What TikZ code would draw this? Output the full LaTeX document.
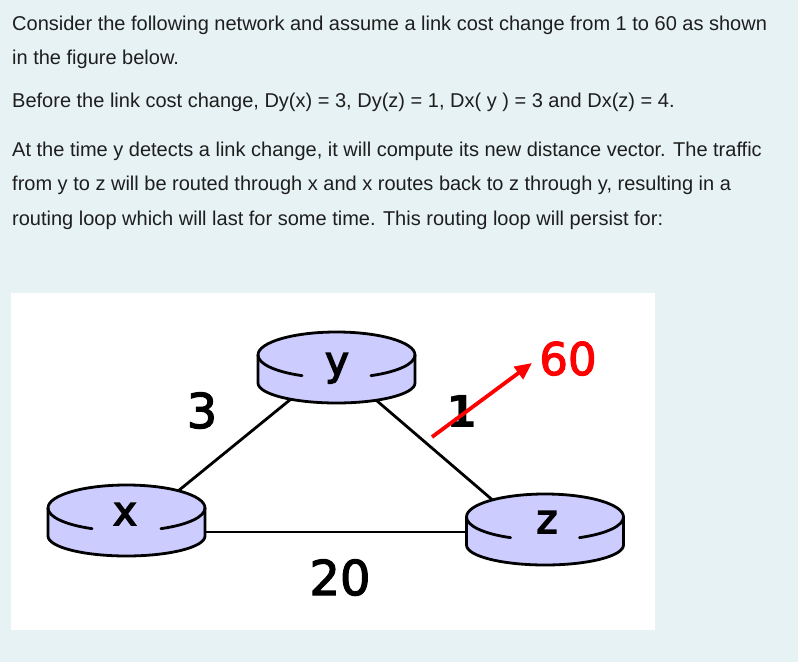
\documentclass[tikz,border=0pt]{standalone}
\usepackage{fontspec}
\setmainfont{Liberation Sans}
\newfontfamily\dvfont{DejaVu Sans}[BoldFont={DejaVu Sans}, BoldFeatures={FakeBold=2.5}]
\newfontfamily\dvletter{DejaVu Sans}[BoldFont={DejaVu Sans}, BoldFeatures={FakeBold=3.8}]
\newfontfamily\dvbold{DejaVu Sans Bold}
\usetikzlibrary{arrows.meta}
\definecolor{pagebg}{RGB}{230,242,244}
\definecolor{rtrfill}{RGB}{204,204,255}
\definecolor{txtcol}{RGB}{30,30,30}
\definecolor{redarrow}{RGB}{255,0,0}
\tikzset{
  qtext/.style={anchor=base west, inner sep=0pt, text=txtcol, font=\fontsize{20}{24}\selectfont},
  rtr/.style={fill=rtrfill, draw=black, line width=2.8pt, line join=round},
  rtrline/.style={draw=black, line width=2.8pt, line cap=round},
  rlabel/.style={anchor=base, inner sep=0pt, font=\dvletter\bfseries\fontsize{40}{40}\selectfont},
  costlabel/.style={anchor=base, inner sep=0pt, font=\dvfont\bfseries\fontsize{48}{48}\selectfont},
  link/.style={draw=black, line width=2.8pt},
}
\newcommand\drawrouter[2]{%
\begin{scope}[shift={(#1,#2)}]
 \filldraw[rtr] (-78.5,0) -- (-78.5,-28) arc[start angle=180,end angle=360,x radius=78.5,y radius=20] -- (78.5,0) arc[start angle=0,end angle=180,x radius=78.5,y radius=23] -- cycle;
 \draw[rtrline] (-78.5,0) arc[start angle=180,end angle=244,x radius=78.5,y radius=23];
 \draw[rtrline] (78.5,0) arc[start angle=360,end angle=296,x radius=78.5,y radius=23];
\end{scope}}
\begin{document}
\begin{tikzpicture}[x=1pt,y=1pt]
\fill[pagebg] (0,0) rectangle (798,662);
\useasboundingbox (0,0) rectangle (798,662);
\fill[white] (11,32) rectangle (655,369);
% question text
\node[qtext] (t1) at (12,631) {Consider the following network and assume a link cost change from 1 to 60 as shown};
\node[qtext] (t2) at (12,597) {in the figure below.};
\node[qtext] (t3) at (12,554) {Before the link cost change, Dy(x) = 3, Dy(z) = 1, Dx( y ) = 3 and Dx(z) = 4.};
\node[qtext] (t4) at (12,505) {At the time y detects a link change, it will compute its new distance vector. The traffic};
\node[qtext] (t5) at (12,471) {from y to z will be routed through x and x routes back to z through y, resulting in a};
\node[qtext] (t6) at (12,436) {routing loop which will last for some time. This routing loop will persist for:};
% hubs
\coordinate (xh) at (126.5,129);
\coordinate (yh) at (334,298);
\coordinate (zh) at (545,117);
\coordinate (xr) at (126.5,130);
\coordinate (zr) at (545,130);
% links
\draw[link] (xh) -- (yh);
\draw[link] (yh) -- (zh);
\draw[link] (xr) -- (zr);
% routers
\drawrouter{336.5}{307}
\drawrouter{126.5}{154}
\drawrouter{545}{145}
\node[rlabel] (y) at (337,287) {y};
\node[rlabel] (x) at (125,137) {x};
\node[rlabel] (z) at (547,129) {z};
% cost labels
\node[costlabel] (c3) at (202,234) {3};
\node[costlabel] (c20) at (340,67) {20};
\node[costlabel, font=\dvbold\fontsize{44}{44}\selectfont] (c1) at (462,234) {1};
\node[costlabel, text=redarrow, font=\dvfont\bfseries\fontsize{45}{45}\selectfont] (c60) at (568,287) {60};
\coordinate (as) at (432,225);
\coordinate (ae) at (532,299);
\draw[redarrow, line width=3.8pt, -{Triangle[length=17pt,width=15pt]}] (as) -- (ae);
\end{tikzpicture}
\end{document}
